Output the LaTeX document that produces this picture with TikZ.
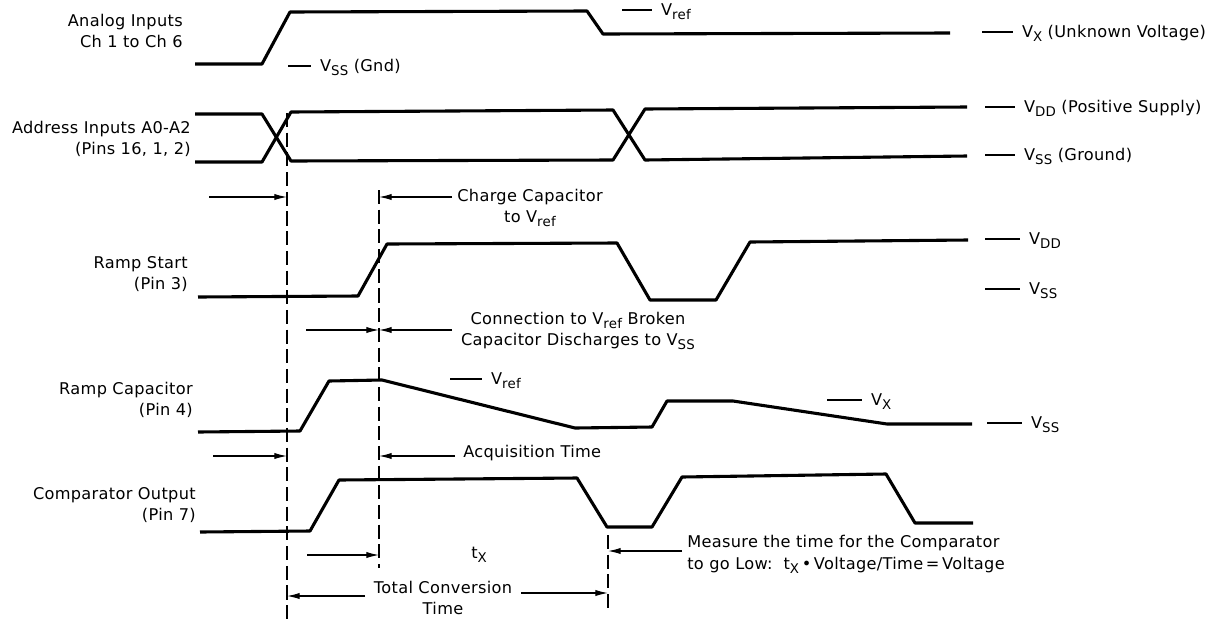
\documentclass[tikz,border=0pt]{standalone}
\usepackage{fontspec}
\setmainfont{DejaVu Sans}[LetterSpace=2]
\usetikzlibrary{arrows.meta}
\usetikzlibrary{positioning}
\newcommand{\vsub}[1]{\raisebox{-0.45ex}{\fontsize{9.5}{10}\selectfont #1}}
\tikzset{
  signal/.style={line width=2.2pt, line join=round},
  level/.style={line width=0.8pt},
  timeline/.style={line width=1.2pt, dash pattern=on 10pt off 4pt},
  span/.style={line width=0.9pt, -{Latex[length=9pt,width=4.5pt]}},
  lbl/.style={inner sep=0pt, font=\fontsize{11.5}{15.5}\selectfont},
  levtxt/.style={lbl, anchor=base west, xshift=6pt, yshift=-4pt},
}

\begin{document}
\begin{tikzpicture}[x=0.025cm,y=-0.025cm]
		\useasboundingbox (0,0) rectangle (1220,619);
		
		% time marks
		\coordinate (t1) at (287,113); \coordinate (t1end) at (287,619);
		\coordinate (t2) at (379,190); \coordinate (t2end) at (379,568);
		\coordinate (t3) at (608,535); \coordinate (t3end) at (608,610);
		\draw[timeline] (t1) -- (t1end) (t2) -- (t2end) (t3) -- (t3end);
		
		% analog inputs
		\node[lbl, align=right, anchor=east] (analog) at (183,31) {Analog Inputs\\Ch 1 to Ch 6};
		\draw[signal] (195,64) -- (262,64) -- (290,12) -- (587,11) -- (603,34) -- (950,33);
		\draw[level] (288,66) -- (311,66) node[levtxt] (gnd) {V\vsub{SS} (Gnd)};
		\draw[level] (622,10) -- (652,10) node[levtxt] (vref1) {V\vsub{ref}};
		\draw[level] (982,32) -- (1013,32) node[levtxt] (vx1) {V\vsub{X} (Unknown Voltage)};
		
		% address inputs
		\node[lbl, align=right, anchor=east] (addr) at (191,139) {Address Inputs A0-A2\\(Pins 16, 1, 2)};
		\draw[signal] (195,114) -- (262,114) -- (291,161) -- (613,160) -- (645,109) -- (967,107);
		\draw[signal] (195,162) -- (262,162) -- (291,112) -- (613,110) -- (645,160) -- (967,156);
		\draw[level] (985,107) -- (1015,107) node[levtxt] (vdd1) {V\vsub{DD} (Positive Supply)};
		\draw[level] (985,155) -- (1015,155) node[levtxt] (vss1) {V\vsub{SS} (Ground)};
		
		% ramp start
		\node[lbl, align=right, anchor=east] (rstart) at (188,274) {Ramp Start\\(Pin 3)};
		\draw[signal] (198,297) -- (358,296) -- (387,244) -- (617,243) -- (650,300) -- (716,300) -- (750,242) -- (968,240);
		\draw[level] (985,239) -- (1020,239) node[levtxt] (vdd2) {V\vsub{DD}};
		\draw[level] (985,289) -- (1020,289) node[levtxt] (vss2) {V\vsub{SS}};
		
		% ramp capacitor
		\node[lbl, align=right, anchor=east] (rcap) at (193,400) {Ramp Capacitor\\(Pin 4)};
		\draw[signal] (198,432) -- (300,431) -- (329,381) -- (382,380) -- (575,428) -- (652,427) -- (667,401) -- (733,401) -- (887,424) -- (972,424);
		\draw[level] (450,379) -- (482,379) node[levtxt] (vref2) {V\vsub{ref}};
		\draw[level] (827,400) -- (862,400) node[levtxt] (vx2) {V\vsub{X}};
		\draw[level] (987,423) -- (1022,423) node[levtxt] (vss3) {V\vsub{SS}};
		
		% comparator output
		\node[lbl, align=right, anchor=east] (comp) at (196,505) {Comparator Output\\(Pin 7)};
		\draw[signal] (200,532) -- (310,531) -- (339,480) -- (577,478) -- (607,527) -- (652,527) -- (682,477) -- (886,474) -- (915,523) -- (973,523);
		
		% charge capacitor
		\coordinate (a1) at (209,197); \coordinate (a2) at (452,197);
		\draw[span] (a1) -- (t1|-a1);
		\draw[span] (a2) -- (t2|-a2);
		\node[lbl, align=center] (charge) at (530,208) {Charge Capacitor\\to V\vsub{ref}};
		
		% connection broken
		\coordinate (b1) at (306,330); \coordinate (b2) at (452,330);
		\draw[span] (b1) -- (t2|-b1);
		\draw[span] (b2) -- (t2|-b2);
		\node[lbl, align=center] (broken) at (578,331) {Connection to V\vsub{ref} Broken\\Capacitor Discharges to V\vsub{SS}};
		
		% acquisition time
		\coordinate (c1) at (213,456); \coordinate (c2) at (455,456);
		\draw[span] (c1) -- (t1|-c1);
		\draw[span] (c2) -- (t2|-c2);
		\node[lbl, anchor=west] (acq) at (463,453) {Acquisition Time};
		
		% conversion time
		\coordinate (d1) at (307,555);
		\draw[span] (d1) -- (t2|-d1);
		\node[lbl] (tx) at (479,555) {t\vsub{X}};
		\coordinate (d2) at (682,551);
		\draw[span] (d2) -- (t3|-d2);
		\node[lbl, align=left, anchor=west] (measure) at (687,554) {Measure the time for the Comparator\\to go Low:\ \ t\vsub{X}\,•\,Voltage/Time\,=\,Voltage};
		\coordinate (e1) at (365,596); \coordinate (e2) at (521,593);
		\draw[span] (e1) -- (t1|-e1);
		\draw[span] (e2) -- (t3|-e2);
		\node[lbl, align=center] (total) at (443,598) {Total Conversion\\Time};
	\end{tikzpicture}
\end{document}
